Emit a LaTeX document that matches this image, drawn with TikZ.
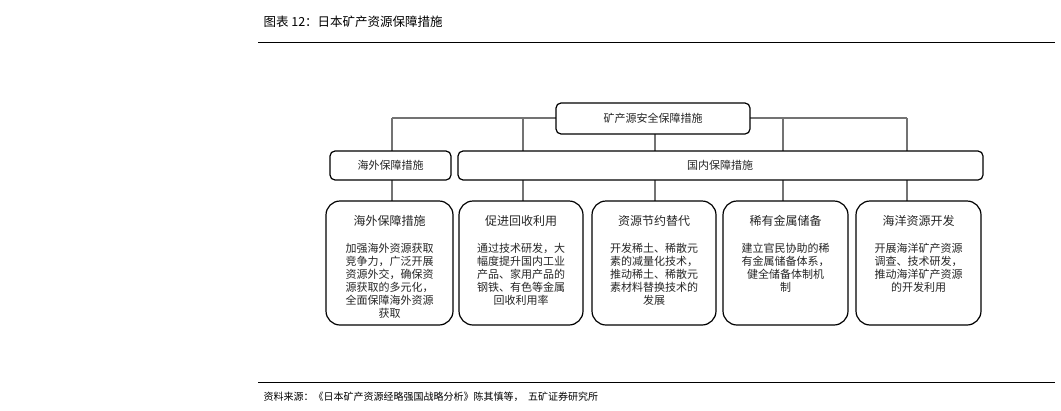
\documentclass[tikz,border=0pt]{standalone}
\usepackage{fontspec}
\setmainfont{Noto Sans CJK SC}
\begin{document}
\begin{tikzpicture}[x=1pt,y=-1pt,
 bx/.style={draw=black,line width=1.2pt,rounded corners=5pt},
 bb/.style={draw=black,line width=1.2pt,rounded corners=14pt},
 ln/.style={draw=black!55,line width=2.5pt},
 tx/.style={font=\fontsize{11}{13}\selectfont,align=center,text=black!85}]
\useasboundingbox (0,0) rectangle (1061,410);
\fill[white] (0,0) rectangle (1061,410);
\node[anchor=west,font=\fontsize{12.5}{14}\selectfont] (title) at (260,22) {图表 12：日本矿产资源保障措施};
\draw[line width=1pt] (258,42) -- (1055,42);
\draw[line width=1pt] (258,382) -- (1055,382);
\node[anchor=west,font=\fontsize{10}{12}\selectfont] (src) at (260,397) {资料来源：《日本矿产资源经略强国战略分析》陈其慎等，\ \ 五矿证券研究所};
% connectors
\coordinate (hl) at (392,118); \coordinate (hr) at (907,118);
\draw[ln] (hl) -- (hr);
\foreach \x in {392,523,655,783,907}{
 \draw[ln] (\x,118) -- (\x,151);
 \draw[ln] (\x,180) -- (\x,201);}
% boxes
\draw[bx,fill=white] (556,103) rectangle (750,134);
\node[tx] (top) at (653,118.5) {矿产源安全保障措施};
\draw[bx,fill=white] (330,151) rectangle (451,180);
\node[tx] (ov) at (390.5,165.5) {海外保障措施};
\draw[bx,fill=white] (458,151) rectangle (983,180);
\node[tx] (dm) at (720,165.5) {国内保障措施};
\foreach \a/\b/\n/\h/\t in {
 326/453/b1/海外保障措施/{加强海外资源获取\\竞争力，广泛开展\\资源外交，确保资\\源获取的多元化，\\全面保障海外资源\\获取},
 459/583/b2/促进回收利用/{通过技术研发，大\\幅度提升国内工业\\产品、家用产品的\\钢铁、有色等金属\\回收利用率},
 592/716/b3/资源节约替代/{开发稀土、稀散元\\素的减量化技术，\\推动稀土、稀散元\\素材料替换技术的\\发展},
 723/848/b4/稀有金属储备/{建立官民协助的稀\\有金属储备体系，\\健全储备体制机\\制},
 856/981/b5/海洋资源开发/{开展海洋矿产资源\\调查、技术研发，\\推动海洋矿产资源\\的开发利用}}{
 \draw[bb,fill=white] (\a,201) rectangle (\b,325);
 \node[tx,font=\fontsize{12}{14}\selectfont] (\n h) at ({(\a+\b)/2},221) {\h};
 \node[tx,anchor=north,font=\fontsize{11}{13}\selectfont] (\n t) at ({(\a+\b)/2},240) {\t};
}
\end{tikzpicture}
\end{document}
